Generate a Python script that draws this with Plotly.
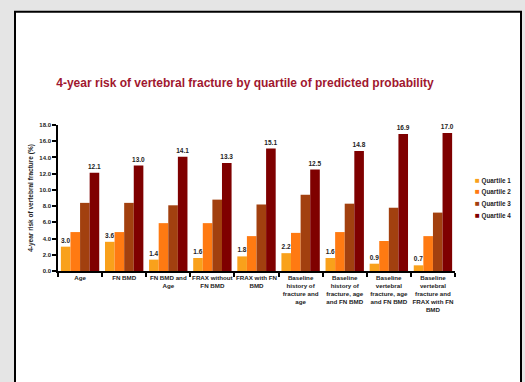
import plotly.graph_objects as go

categories = [
    "Age",
    "FN BMD",
    "FN BMD and<br>Age",
    "FRAX without<br>FN BMD",
    "FRAX with FN<br>BMD",
    "Baseline<br>history of<br>fracture and<br>age",
    "Baseline<br>history of<br>fracture, age<br>and FN BMD",
    "Baseline<br>vertebral<br>fracture, age<br>and FN BMD",
    "Baseline<br>vertebral<br>fracture and<br>FRAX with FN<br>BMD",
]
q1 = [3.0, 3.6, 1.4, 1.6, 1.8, 2.2, 1.6, 0.9, 0.7]
q2 = [4.8, 4.8, 5.9, 5.9, 4.3, 4.7, 4.8, 3.7, 4.3]
q3 = [8.4, 8.4, 8.1, 8.8, 8.2, 9.4, 8.3, 7.8, 7.2]
q4 = [12.1, 13.0, 14.1, 13.3, 15.1, 12.5, 14.8, 16.9, 17.0]
series_names = ["Quartile 1", "Quartile 2", "Quartile 3", "Quartile 4"]
colors = ["#F9A11B", "#FF7A12", "#A2400F", "#7F0000"]
show_labels = [True, False, False, True]

FONT = "Arial, 'Liberation Sans', sans-serif"

W, H = 525, 382
L, R, T, B = 58, 455, 124.7, 271.3

fig = go.Figure()
for name, vals, col, lab in zip(series_names, [q1, q2, q3, q4], colors, show_labels):
    fig.add_trace(go.Bar(
        x=categories, y=vals, name=name,
        marker=dict(color=col, line=dict(width=0)),
        text=[f"{v:.1f}" for v in vals] if lab else None,
        textposition="outside" if lab else "none",
        constraintext="none",
        textfont=dict(family=FONT, size=6.5, color="#222", weight="bold"),
        cliponaxis=False,
        showlegend=False,
    ))

def px_to_x(px):
    return (px - L) / (R - L)

def py_to_y(py):
    return (B - py) / (B - T)

fig.add_shape(type="rect", xref="paper", yref="paper",
              x0=px_to_x(15), x1=px_to_x(521), y0=py_to_y(395), y1=py_to_y(11),
              line=dict(color="black", width=2), fillcolor="white", layer="below")

# legend drawn as annotations (compact spacing like the original)
legend_annotations = []
for i, (name, col) in enumerate(zip(series_names, colors)):
    legend_annotations.append(dict(
        xref="paper", yref="paper",
        x=px_to_x(473), y=py_to_y(180 + i * 11.7),
        xanchor="left", yanchor="middle", showarrow=False,
        text=f"<span style='color:{col};font-size:8px'>■</span> {name}",
        font=dict(family=FONT, size=6.3, color="#222", weight="bold"),
    ))

fig.update_layout(
    width=W, height=H,
    margin=dict(l=L, r=W - R, t=T, b=H - B, pad=0),
    paper_bgcolor="#E5E5E5",
    plot_bgcolor="rgba(0,0,0,0)",
    barmode="group", bargap=0.13, bargroupgap=0,
    font=dict(family=FONT, size=6, color="#222"),
    title=dict(
        text="4-year risk of vertebral fracture by quartile of predicted probability",
        font=dict(family=FONT, size=12, color="#A0172F", weight="bold"),
        xref="container", yref="container",
        x=245 / W, y=1 - 82.5 / H, xanchor="center", yanchor="middle",
    ),
    showlegend=False,
    annotations=legend_annotations,
    xaxis=dict(
        showline=True, linecolor="black", linewidth=1.5,
        ticks="outside", tickson="boundaries", ticklen=4, tickcolor="black", tickwidth=1.5,
        tickfont=dict(family=FONT, size=6.2, color="#222", weight="bold"),
        tickangle=0, showgrid=False,
    ),
    yaxis=dict(
        range=[0, 18], dtick=2, tickformat=".1f",
        showline=True, linecolor="black", linewidth=1.5,
        ticks="outside", ticklen=4, tickcolor="black", tickwidth=1.5,
        tickfont=dict(family=FONT, size=6, color="#222", weight="bold"),
        showgrid=False, zeroline=False,
        title=dict(text="4-year risk of vertebral fracture (%)",
                   font=dict(family=FONT, size=6.5, color="#222", weight="bold"),
                   standoff=5),
    ),
)

fig.write_html("out.html")
